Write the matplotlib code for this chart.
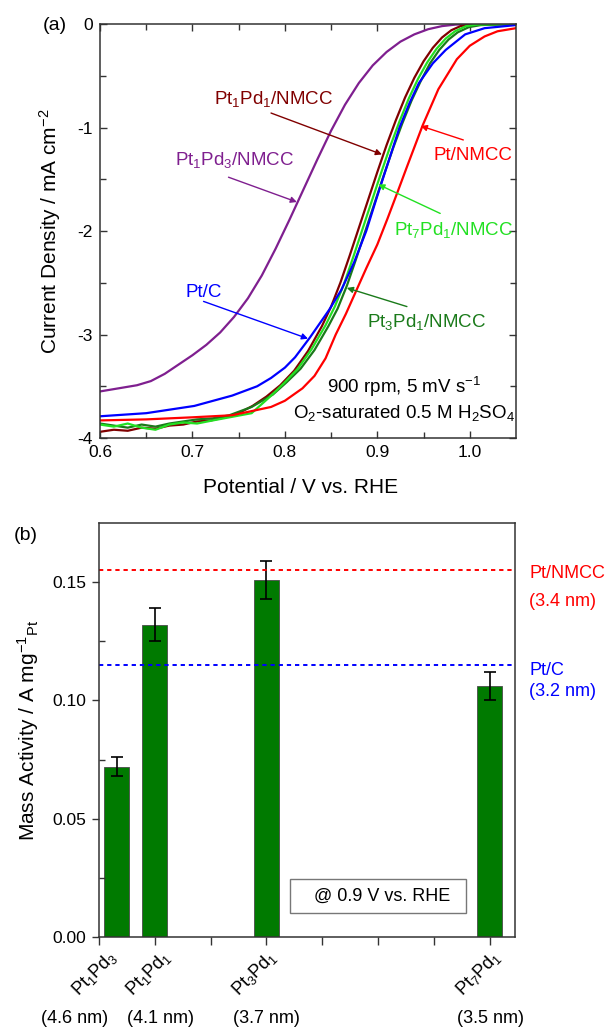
import numpy as np
import matplotlib
matplotlib.use("Agg")
import matplotlib.pyplot as plt
import matplotlib.transforms as mtransforms
from matplotlib.patches import Rectangle

plt.rcParams['font.family'] = ['Liberation Sans', 'DejaVu Sans']
plt.rcParams['mathtext.fontset'] = 'custom'
plt.rcParams['mathtext.rm'] = 'Liberation Sans'
plt.rcParams['mathtext.it'] = 'Liberation Sans:italic'
plt.rcParams['mathtext.bf'] = 'Liberation Sans:bold'
plt.rcParams['mathtext.default'] = 'regular'

# ---- (a) LSV curves, potential (V vs. RHE) / current density (mA cm-2) ----
v_pt1pd3 = [0.600, 0.620, 0.640, 0.655, 0.670, 0.685, 0.700, 0.715, 0.730, 0.745, 0.760, 0.775,
            0.790, 0.805, 0.820, 0.835, 0.850, 0.865, 0.880, 0.895, 0.910, 0.925, 0.940, 0.955,
            0.970, 0.985, 1.050]
j_pt1pd3 = [-3.55, -3.52, -3.49, -3.45, -3.38, -3.29, -3.20, -3.10, -2.98, -2.83, -2.65, -2.43,
            -2.17, -1.89, -1.60, -1.31, -1.03, -0.78, -0.57, -0.40, -0.27, -0.17, -0.10, -0.05,
            -0.02, -0.005, 0.0]

v_pt1pd1 = [0.600, 0.615, 0.630, 0.645, 0.660, 0.675, 0.690, 0.705, 0.720, 0.735, 0.750, 0.765,
            0.780, 0.795, 0.810, 0.825, 0.840, 0.850, 0.860, 0.870, 0.880, 0.890, 0.900, 0.910,
            0.920, 0.930, 0.940, 0.950, 0.960, 0.970, 0.980, 0.990, 1.000, 1.050]
j_pt1pd1 = [-3.94, -3.92, -3.93, -3.90, -3.91, -3.88, -3.87, -3.84, -3.83, -3.80, -3.76, -3.69,
            -3.60, -3.49, -3.35, -3.16, -2.92, -2.73, -2.50, -2.24, -1.97, -1.70, -1.43, -1.17,
            -0.93, -0.71, -0.52, -0.36, -0.23, -0.13, -0.06, -0.02, -0.005, 0.0]

v_pt3pd1 = [0.600, 0.615, 0.630, 0.645, 0.660, 0.675, 0.690, 0.705, 0.722, 0.740, 0.764, 0.787,
            0.802, 0.817, 0.832, 0.847, 0.857, 0.867, 0.877, 0.887, 0.897, 0.907, 0.917, 0.927,
            0.937, 0.947, 0.957, 0.967, 0.977, 0.987, 0.999, 1.012, 1.050]
j_pt3pd1 = [-3.86, -3.88, -3.90, -3.87, -3.89, -3.86, -3.84, -3.82, -3.81, -3.78, -3.70, -3.58,
            -3.46, -3.33, -3.15, -2.92, -2.75, -2.53, -2.27, -2.00, -1.73, -1.46, -1.20, -0.96,
            -0.74, -0.55, -0.38, -0.25, -0.15, -0.08, -0.03, -0.01, 0.0]

v_pt7pd1 = [0.600, 0.615, 0.630, 0.645, 0.660, 0.675, 0.690, 0.705, 0.722, 0.740, 0.764, 0.784,
            0.799, 0.814, 0.829, 0.844, 0.854, 0.864, 0.874, 0.884, 0.894, 0.904, 0.914, 0.924,
            0.934, 0.944, 0.954, 0.964, 0.974, 0.984, 0.996, 1.008, 1.050]
j_pt7pd1 = [-3.87, -3.89, -3.86, -3.90, -3.92, -3.87, -3.85, -3.86, -3.83, -3.80, -3.76, -3.60,
            -3.47, -3.33, -3.14, -2.91, -2.73, -2.51, -2.25, -1.98, -1.71, -1.44, -1.18, -0.94,
            -0.72, -0.53, -0.37, -0.24, -0.14, -0.07, -0.02, -0.005, 0.0]

v_ptc = [0.600, 0.650, 0.702, 0.743, 0.770, 0.785, 0.800, 0.811, 0.827, 0.848, 0.861, 0.875,
         0.888, 0.900, 0.912, 0.924, 0.935, 0.945, 0.960, 0.974, 0.995, 1.016, 1.050]
j_ptc = [-3.79, -3.76, -3.69, -3.59, -3.50, -3.42, -3.32, -3.22, -3.03, -2.76, -2.57, -2.30,
         -2.00, -1.66, -1.33, -1.00, -0.76, -0.57, -0.38, -0.25, -0.10, -0.04, -0.01]

v_ptnmcc = [0.600, 0.650, 0.700, 0.743, 0.785, 0.800, 0.819, 0.832, 0.844, 0.855, 0.866, 0.877,
            0.888, 0.900, 0.911, 0.922, 0.932, 0.949, 0.966, 0.986, 1.000, 1.016, 1.030, 1.050]
j_ptnmcc = [-3.83, -3.82, -3.80, -3.78, -3.70, -3.64, -3.52, -3.40, -3.23, -3.00, -2.80, -2.58,
            -2.36, -2.13, -1.88, -1.62, -1.38, -0.98, -0.63, -0.34, -0.21, -0.12, -0.07, -0.04]

# ---- (b) mass activity at 0.9 V ----
catalysts = ['Pt$_1$Pd$_3$', 'Pt$_1$Pd$_1$', 'Pt$_3$Pd$_1$', 'Pt$_7$Pd$_1$']
sizes = ['(4.6 nm)', '(4.1 nm)', '(3.7 nm)', '(3.5 nm)']
tick_pos = [0, 1, 3, 7]
bar_pos = [0.32, 1, 3, 7]
mass_act = [0.072, 0.132, 0.151, 0.106]
mass_err = [0.004, 0.007, 0.008, 0.006]
ref_ptnmcc = 0.155
ref_ptc = 0.115

fig = plt.figure(figsize=(6.05, 10.27), dpi=100)
ax1 = fig.add_axes([0.1653, 0.5735, 0.6876, 0.4031])
ax2 = fig.add_axes([0.1636, 0.0876, 0.6876, 0.4031])

lw = 1.6
ax1.plot(v_pt1pd3, j_pt1pd3, color='#7f1f8f', lw=lw)
ax1.plot(v_pt1pd1, j_pt1pd1, color='#800000', lw=lw)
ax1.plot(v_pt3pd1, j_pt3pd1, color='#1a7a1a', lw=lw)
ax1.plot(v_pt7pd1, j_pt7pd1, color='#22e022', lw=lw)
ax1.plot(v_ptc, j_ptc, color='#0000ff', lw=lw)
ax1.plot(v_ptnmcc, j_ptnmcc, color='#ff0000', lw=lw)

ax1.set_xlim(0.6, 1.05)
ax1.set_ylim(-4, 0)
ax1.set_xticks([0.6, 0.7, 0.8, 0.9, 1.0])
ax1.set_xticklabels(['0.6', '0.7', '0.8', '0.9', '1.0'])
ax1.set_xticks(np.arange(0.65, 1.05, 0.1), minor=True)
ax1.set_yticks([0, -1, -2, -3, -4])
ax1.set_yticklabels(['0', '-1', '-2', '-3', '-4'])
ax1.set_yticks([-0.5, -1.5, -2.5, -3.5], minor=True)
ax1.tick_params(which='both', direction='in', top=True, right=True, width=1.0,
                color='#333333', labelsize=12.5)
ax1.tick_params(which='major', length=5, pad=5)
ax1.tick_params(which='minor', length=4)
ax1.set_xlabel('Potential / V vs. RHE', fontsize=15)
ax1.set_ylabel('Current Density / mA cm$^{-2}$', fontsize=15)
ax1.xaxis.set_label_coords(0.483, -0.097)
ax1.yaxis.set_label_coords(-0.09, 0.5)

fs = 13.5
arrow_kw = dict(arrowstyle='-|>', lw=1.0, mutation_scale=9, shrinkA=0, shrinkB=0)

def label_arrow(ax, text, txy, start, tip, color):
    ax.text(txy[0], txy[1], text, color=color, fontsize=fs, ha='center', va='center')
    ax.annotate('', xy=tip, xytext=start, arrowprops=dict(color=color, **arrow_kw))

label_arrow(ax1, 'Pt$_1$Pd$_1$/NMCC', (0.788, -0.72), (0.785, -0.86), (0.905, -1.26), '#800000')
label_arrow(ax1, 'Pt$_1$Pd$_3$/NMCC', (0.7455, -1.31), (0.739, -1.48), (0.813, -1.72), '#7f1f8f')
label_arrow(ax1, 'Pt/NMCC', (1.0035, -1.27), (0.993, -1.12), (0.947, -0.985), '#ff0000')
label_arrow(ax1, 'Pt$_7$Pd$_1$/NMCC', (0.983, -1.99), (0.968, -1.83), (0.901, -1.55), '#22e022')
label_arrow(ax1, 'Pt/C', (0.7125, -2.59), (0.712, -2.68), (0.825, -3.04), '#0000ff')
label_arrow(ax1, 'Pt$_3$Pd$_1$/NMCC', (0.953, -2.88), (0.932, -2.73), (0.867, -2.55), '#1a7a1a')

ax1.text(0.929, -3.51, '900 rpm, 5 mV s$^{-1}$', fontsize=fs, ha='center', va='center')
ax1.text(0.929, -3.76, 'O$_2$-saturated 0.5 M H$_2$SO$_4$', fontsize=fs, ha='center', va='center')

# ---- panel (b) ----
ax2.bar(bar_pos, mass_act, width=0.45, color='#007a00', edgecolor='#4a4a4a', linewidth=0.6,
        yerr=mass_err, error_kw=dict(ecolor='black', elinewidth=1.2, capsize=4.5, capthick=1.2))
ax2.axhline(ref_ptnmcc, color='#ff0000', lw=1.4, ls=(0, (2.2, 2.0)))
ax2.axhline(ref_ptc, color='#0000ff', lw=1.4, ls=(0, (2.2, 2.0)))

ax2.set_xlim(0, 7.45)
ax2.set_ylim(0, 0.175)
ax2.set_xticks(tick_pos + [2, 4, 5, 6])
ax2.set_xticklabels([])
ax2.set_yticks([0.0, 0.05, 0.10, 0.15])
ax2.set_yticklabels(['0.00', '0.05', '0.10', '0.15'])
ax2.set_yticks([0.025, 0.075, 0.125], minor=True)
ax2.tick_params(which='both', width=1.0, color='#333333', labelsize=12.5)
ax2.tick_params(axis='x', which='major', direction='out', length=6)
ax2.tick_params(axis='y', which='major', direction='out', length=5, pad=4)
ax2.tick_params(axis='y', which='minor', direction='in', length=4)
ax2.set_ylabel('Mass Activity / A mg$^{-1}{}_{Pt}$', fontsize=15)
ax2.yaxis.set_label_coords(-0.14, 0.5)

trans = mtransforms.blended_transform_factory(ax2.transData, ax2.transAxes)
label_dx = [-0.08, -0.12, -0.22, -0.2]
size_dx = [-0.44, 0.1, 0.0, 0.02]
for x, name, size, dx, sdx in zip(tick_pos, catalysts, sizes, label_dx, size_dx):
    ax2.text(x + dx, -0.087, name, transform=trans, rotation=45, fontsize=13,
             ha='center', va='center')
    ax2.text(x + sdx, -0.196, size, transform=trans, fontsize=13, ha='center', va='center')

side = mtransforms.blended_transform_factory(ax2.transAxes, ax2.transData)
ax2.text(1.034, 0.1538, 'Pt/NMCC', transform=side, color='#ff0000', fontsize=13, va='center')
ax2.text(1.034, 0.1417, '(3.4 nm)', transform=side, color='#ff0000', fontsize=13, va='center')
ax2.text(1.034, 0.1128, 'Pt/C', transform=side, color='#0000ff', fontsize=13, va='center')
ax2.text(1.034, 0.1036, '(3.2 nm)', transform=side, color='#0000ff', fontsize=13, va='center')

ax2.add_patch(Rectangle((0.459, 0.058), 0.423, 0.082, transform=ax2.transAxes,
                        facecolor='white', edgecolor='#777777', lw=1.0, zorder=3))
ax2.text(0.68, 0.099, '@ 0.9 V vs. RHE', transform=ax2.transAxes, fontsize=13,
         ha='center', va='center', zorder=4)

for ax in (ax1, ax2):
    for sp in ax.spines.values():
        sp.set_color('#333333')
        sp.set_linewidth(1.1)

fig.text(55 / 605, 1 - 25 / 1027, '(a)', fontsize=14, ha='center', va='center')
fig.text(26 / 605, 1 - 535 / 1027, '(b)', fontsize=14, ha='center', va='center')

fig.savefig('out.png', dpi=100)
